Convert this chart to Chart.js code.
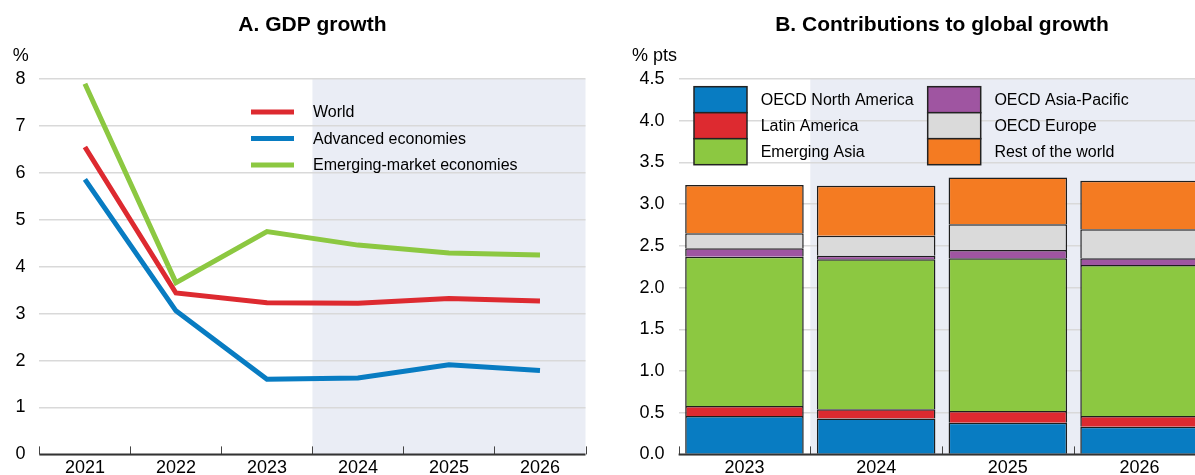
<!DOCTYPE html>
<html>
<head>
<meta charset="utf-8">
<script src="https://cdn.jsdelivr.net/npm/chart.js@4.4.1/dist/chart.umd.min.js"></script>
<style>
  body { margin: 0; background: #fff; overflow: hidden; width: 1195px; height: 475px; position: relative; }
  #gdp { position: absolute; left: 0; top: 0; }
  #contrib { position: absolute; left: 600px; top: 0; }
</style>
</head>
<body>
<!-- canvases are a bit taller than the window so the x labels sit at the right height -->
<canvas id="gdp" width="600" height="482"></canvas>
<canvas id="contrib" width="620" height="482"></canvas>
<script>
// Panel A: GDP growth, %
var years = ['2021', '2022', '2023', '2024', '2025', '2026'];
var world = [6.55, 3.44, 3.23, 3.22, 3.32, 3.27];
var advanced = [5.86, 3.06, 1.60, 1.63, 1.91, 1.79];
var emerging = [7.90, 3.66, 4.75, 4.46, 4.29, 4.25];

// Panel B: contributions to global growth, % pts (bottom to top)
var contribYears = ['2023', '2024', '2025', '2026'];
var northAmerica = [0.46, 0.43, 0.38, 0.33];
var latinAmerica = [0.12, 0.11, 0.14, 0.13];
var emergingAsia = [1.79, 1.80, 1.83, 1.81];
var asiaPacific = [0.10, 0.04, 0.10, 0.08];
var oecdEurope = [0.18, 0.24, 0.31, 0.35];
var restOfWorld = [0.58, 0.60, 0.56, 0.58];

var FONT = '"Liberation Sans", Arial, sans-serif';
Chart.defaults.font.family = FONT;
Chart.defaults.color = '#000';

var RED = '#dd2a30', BLUE = '#087cc2', GREEN = '#8cc841';
var PURPLE = '#9f55a1', GREY = '#dadada', ORANGE = '#f47b22';
var SHADE = '#eaedf5';
var GRID = '#d9d9d9';

// shading of projection years, axis line with inward ticks, title and unit
var decor = {
  id: 'decor',
  beforeDraw: function (chart, args, opts) {
    var a = chart.chartArea, ctx = chart.ctx;
    var w = (a.right - a.left) / chart.data.labels.length;
    var x0 = a.left + opts.shadeFrom * w;
    ctx.save();
    ctx.fillStyle = SHADE;
    ctx.fillRect(x0, a.top, a.right - x0, a.bottom - a.top);
    ctx.restore();
  },
  afterDraw: function (chart, args, opts) {
    var a = chart.chartArea, ctx = chart.ctx;
    var n = chart.data.labels.length;
    var w = (a.right - a.left) / n;
    ctx.save();
    ctx.strokeStyle = '#444';
    ctx.lineWidth = 1;
    ctx.beginPath();
    for (var i = 0; i <= n; i++) {
      var x = Math.round(a.left + i * w) + 0.5;
      ctx.moveTo(x, a.bottom);
      ctx.lineTo(x, a.bottom - 8);
    }
    ctx.stroke();
    ctx.strokeStyle = '#333';
    ctx.lineWidth = 2;
    ctx.beginPath();
    ctx.moveTo(a.left, a.bottom);
    ctx.lineTo(a.right, a.bottom);
    ctx.stroke();

    ctx.fillStyle = '#000';
    ctx.textBaseline = 'middle';
    ctx.textAlign = 'center';
    ctx.font = 'bold 21px ' + FONT;
    ctx.fillText(opts.title, (a.left + a.right) / 2, 25);
    ctx.textAlign = 'left';
    ctx.font = '18px ' + FONT;
    ctx.fillText(opts.unit, opts.unitX, 56);
    ctx.restore();
  }
};

var gdpLegend = {
  id: 'gdpLegend',
  afterDraw: function (chart) {
    var ctx = chart.ctx;
    var rows = [112, 138.5, 165];
    ctx.save();
    ctx.font = '16px ' + FONT;
    ctx.textBaseline = 'middle';
    ctx.textAlign = 'left';
    chart.data.datasets.forEach(function (ds, i) {
      ctx.strokeStyle = ds.borderColor;
      ctx.lineWidth = 5;
      ctx.beginPath();
      ctx.moveTo(251, rows[i]);
      ctx.lineTo(294, rows[i]);
      ctx.stroke();
      ctx.fillStyle = '#000';
      ctx.fillText(ds.label, 313, rows[i] + 1);
    });
    ctx.restore();
  }
};

var contribLegend = {
  id: 'contribLegend',
  afterDraw: function (chart) {
    var ctx = chart.ctx;
    var cols = [94, 327.7];
    var tops = [86.7, 112.7, 138.7];
    ctx.save();
    ctx.font = '16px ' + FONT;
    ctx.textBaseline = 'middle';
    ctx.textAlign = 'left';
    chart.data.datasets.forEach(function (ds, k) {
      var cx = cols[Math.floor(k / 3)];
      var ty = tops[k % 3];
      ctx.fillStyle = ds.backgroundColor;
      ctx.fillRect(cx, ty, 53, 26);
      ctx.strokeStyle = '#222';
      ctx.lineWidth = 1.5;
      ctx.strokeRect(cx, ty, 53, 26);
      ctx.fillStyle = '#000';
      ctx.fillText(ds.label, cx + 66.7, ty + 14);
    });
    ctx.restore();
  }
};

new Chart(document.getElementById('gdp'), {
  type: 'line',
  data: {
    labels: years,
    datasets: [
      { label: 'World', data: world, borderColor: RED, borderWidth: 5, pointRadius: 0, fill: false },
      { label: 'Advanced economies', data: advanced, borderColor: BLUE, borderWidth: 5, pointRadius: 0, fill: false },
      { label: 'Emerging-market economies', data: emerging, borderColor: GREEN, borderWidth: 5, pointRadius: 0, fill: false }
    ]
  },
  options: {
    responsive: false,
    animation: false,
    layout: { padding: { left: 0, right: 14.5, top: 79, bottom: 0 } },
    plugins: {
      legend: { display: false },
      tooltip: { enabled: false },
      decor: { title: 'A. GDP growth', unit: '%', unitX: 12.7, shadeFrom: 3 }
    },
    scales: {
      x: {
        offset: true,
        grid: { display: false, drawTicks: false },
        border: { display: false },
        ticks: { font: { size: 18 }, color: '#000', padding: 3, maxRotation: 0 }
      },
      y: {
        min: 0,
        max: 8,
        ticks: { stepSize: 1, font: { size: 18 }, color: '#000', padding: 14 },
        grid: { color: GRID, lineWidth: 1.5, drawTicks: false },
        border: { display: false },
        afterFit: function (s) { s.width = 39.4; }
      }
    }
  },
  plugins: [decor, gdpLegend]
});

function barSet(label, data, color) {
  return {
    label: label,
    data: data,
    backgroundColor: color,
    borderColor: '#1e1e1e',
    borderWidth: 1.5,
    barPercentage: 0.9,
    categoryPercentage: 1
  };
}

new Chart(document.getElementById('contrib'), {
  type: 'bar',
  data: {
    labels: contribYears,
    datasets: [
      barSet('OECD North America', northAmerica, BLUE),
      barSet('Latin America', latinAmerica, RED),
      barSet('Emerging Asia', emergingAsia, GREEN),
      barSet('OECD Asia-Pacific', asiaPacific, PURPLE),
      barSet('OECD Europe', oecdEurope, GREY),
      barSet('Rest of the world', restOfWorld, ORANGE)
    ]
  },
  options: {
    responsive: false,
    animation: false,
    layout: { padding: { left: 0, right: 14.6, top: 79, bottom: 0 } },
    plugins: {
      legend: { display: false },
      tooltip: { enabled: false },
      decor: { title: 'B. Contributions to global growth', unit: '% pts', unitX: 32, shadeFrom: 1 }
    },
    scales: {
      x: {
        stacked: true,
        grid: { display: false, drawTicks: false },
        border: { display: false },
        ticks: { font: { size: 18 }, color: '#000', padding: 3, maxRotation: 0 }
      },
      y: {
        stacked: true,
        min: 0,
        max: 4.5,
        z: 1,
        ticks: {
          stepSize: 0.5,
          font: { size: 18 },
          color: '#000',
          padding: 14,
          callback: function (v) { return v.toFixed(1); }
        },
        grid: { color: GRID, lineWidth: 1.5, drawTicks: false },
        border: { display: false },
        afterFit: function (s) { s.width = 78.6; }
      }
    }
  },
  plugins: [decor, contribLegend]
});
</script>
</body>
</html>
